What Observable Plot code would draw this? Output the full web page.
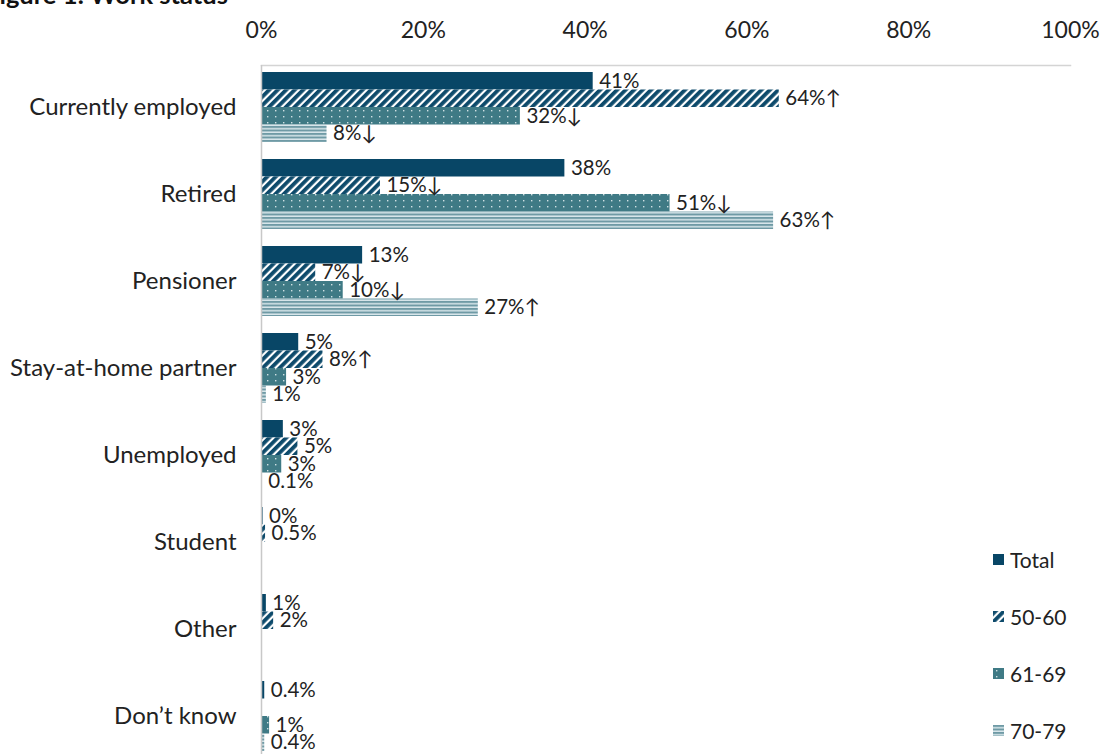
<!DOCTYPE html>
<html><head><meta charset="utf-8">
<script src="https://cdn.jsdelivr.net/npm/d3@7"></script>
<script src="https://cdn.jsdelivr.net/npm/@observablehq/plot@0.6"></script>
<style>
body{margin:0;background:#fff;font-family:Lato, "Open Sans", sans-serif;}
#wrap{position:relative;width:1101px;height:754px;overflow:hidden;}
#title{position:absolute;left:-15px;top:-18px;font-weight:bold;font-size:25.5px;line-height:25px;color:#111;white-space:nowrap;}
#chart{position:absolute;left:0;top:0;}
#legend{position:absolute;left:993px;top:547px;}
.item{display:flex;align-items:center;height:24px;margin-bottom:33px;font-size:21px;color:#222}
.item svg{margin-right:6px}
</style></head><body>
<div id="wrap"><div id="chart"></div><div id="title">Figure 1: Work status</div><div id="legend"></div></div>
<script>
const categories = ["Currently employed","Retired","Pensioner","Stay-at-home partner","Unemployed","Student","Other","Don\u2019t know"];
const series = ["Total","50-60","61-69","70-79"];
const xTicks = [0,20,40,60,80,100];

const valTotal = [41, 37.5, 12.5, 4.6, 2.7, 0.2, 0.6, 0.4];
const val5060  = [64, 14.7, 6.7, 7.6, 4.5, 0.5, 1.5, null];
const val6169  = [32, 50.5, 10.1, 3.1, 2.5, null, null, 1.0];
const val7079  = [8.1, 63.3, 26.8, 0.6, 0.1, null, null, 0.4];

const lblTotal = ["41%","38%","13%","5%","3%","0%","1%","0.4%"];
const lbl5060  = ["64%\u2191","15%\u2193","7%\u2193","8%\u2191","5%","0.5%","2%",null];
const lbl6169  = ["32%\u2193","51%\u2193","10%\u2193","3%","3%",null,null,"1%"];
const lbl7079  = ["8%\u2193","63%\u2191","27%\u2191","1%","0.1%",null,null,"0.4%"];

const values = [valTotal, val5060, val6169, val7079];
const labels = [lblTotal, lbl5060, lbl6169, lbl7079];
const fills = ["#084666","url(#pDiag)","url(#pDots)","url(#pLines)"];

const rows = [];
series.forEach((s,i)=>categories.forEach((c,j)=>{
  if (values[i][j] != null) rows.push({category:c, series:s, si:i, value:values[i][j], label:labels[i][j]});
}));

const plotH = 758, mTop = 65;
const band = 70, h = band/4;

const marks = [
  Plot.frame({anchor:"top", stroke:"#d4d4d4", strokeWidth:1.5}),
];
series.forEach((s,i)=>{
  const d = rows.filter(r=>r.si===i);
  marks.push(Plot.barX(d, {x:"value", y:"category", fill:fills[i], insetTop:i*h, insetBottom:(3-i)*h}));
});
marks.push(Plot.ruleX([0], {stroke:"#c8c8c8", strokeWidth:1.5}));
series.forEach((s,i)=>{
  const d = rows.filter(r=>r.si===i);
  marks.push(Plot.text(d, {x:"value", y:"category", text:"label", dy:(i-1.5)*h, dx:6, textAnchor:"start", fontSize:20.5, fill:"#222"}));
});
marks.push(Plot.axisX({anchor:"top", ticks:xTicks, tickFormat:d=>d+"%", tickSize:0, tickPadding:28, fontSize:23, label:null, fill:"#222"}));
marks.push(Plot.axisY({tickSize:0, tickPadding:25, fontSize:24, label:null, fill:"#222"}));

const chart = Plot.plot({
  width:1101, height:plotH,
  marginLeft:261, marginRight:31, marginTop:mTop, marginBottom:0,
  style:{fontFamily:"Lato, 'Open Sans', sans-serif", background:"#fff", overflow:"visible"},
  x:{domain:[0,100]},
  y:{domain:categories, paddingInner:17/87, paddingOuter:7/87},
  marks
});
document.getElementById("chart").appendChild(chart);

const svg = d3.select(chart);
const defs = svg.insert("defs", ":first-child");
const p1 = defs.append("pattern").attr("id","pDiag").attr("patternUnits","userSpaceOnUse")
  .attr("width",6).attr("height",6).attr("patternTransform","rotate(45)");
p1.append("rect").attr("width",6).attr("height",6).attr("fill","#fff");
p1.append("rect").attr("width",3.8).attr("height",6).attr("fill","#0d4a6b");
const p2 = defs.append("pattern").attr("id","pDots").attr("patternUnits","userSpaceOnUse")
  .attr("width",8).attr("height",6);
p2.append("rect").attr("width",8).attr("height",6).attr("fill","#3f7a85");
p2.append("rect").attr("x",3).attr("y",2).attr("width",1.4).attr("height",1.4).attr("fill","#cfe0e3");
const p3 = defs.append("pattern").attr("id","pLines").attr("patternUnits","userSpaceOnUse")
  .attr("width",6).attr("height",3.5);
p3.append("rect").attr("width",6).attr("height",3.5).attr("fill","#d9e7eb");
p3.append("rect").attr("width",6).attr("height",2).attr("fill","#6f9aa5");

const leg = d3.select("#legend");
series.forEach((s,i)=>{
  const it = leg.append("div").attr("class","item");
  const sv = it.append("svg").attr("width",11).attr("height",11);
  sv.append("rect").attr("width",11).attr("height",11).attr("fill",fills[i]);
  it.append("span").text(s);
});
</script>
</body></html>
